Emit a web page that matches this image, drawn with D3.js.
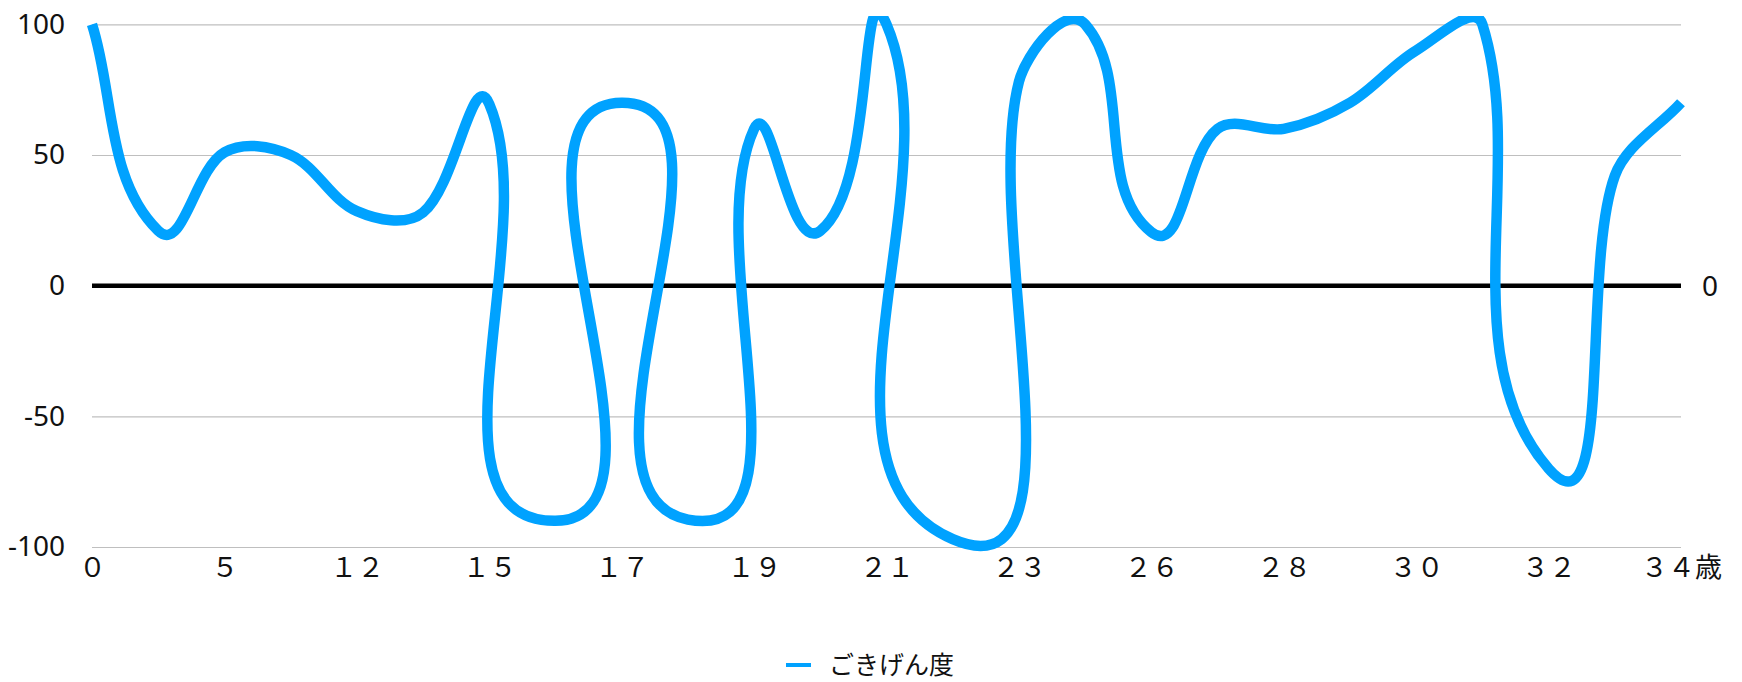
<!DOCTYPE html>
<html>
<head>
<meta charset="utf-8">
<script src="https://cdn.jsdelivr.net/npm/d3@7"></script>
<style>
  html, body { margin: 0; padding: 0; background: #fff; }
  svg { display: block; }
</style>
</head>
<body>
<svg id="main_svg" width="1742" height="682"></svg>
<script>
// one point per category, only every other category carries a label
const values = [100, 21, 51, 50, 28.5, 28, 69.5, -90, 70, -89.5, 60, 21, 100,
                -97, 78, 100, 20.5, 60, 60, 70, 90, 100, -70, 42, 70];
const tickLabels = ["０", "５", "１２", "１５", "１７", "１９", "２１",
                    "２３", "２６", "２８", "３０", "３２", "３４歳"];
const yTicks = [-100, -50, 0, 50, 100];
const seriesName = "ごきげん度";

const width = 1742, height = 682;
const plotLeft = 92, plotRight = 1681, plotTop = 24.3, plotBottom = 547;
const blue = "#00a2ff";

const svg = d3.select("#main_svg");

const idx = values.map((v, i) => i);
const x = d3.scalePoint().domain(idx).range([plotLeft, plotRight]);
const y = d3.scaleLinear().domain([-100, 100]).range([plotBottom, plotTop]);

// bezier through each point, tangent along neighbours, handles a third of the chord
// (long steep segments overshoot sideways, which gives the loops)
function LoopCurve(context) { this._context = context; }
LoopCurve.prototype = {
  areaStart() {}, areaEnd() {},
  lineStart() { this._pts = []; },
  point(px, py) { this._pts.push([+px, +py]); },
  lineEnd() {
    const p = this._pts, c = this._context;
    if (!p.length) return;
    const unit = (dx, dy) => { const l = Math.hypot(dx, dy) || 1; return [dx / l, dy / l]; };
    c.moveTo(p[0][0], p[0][1]);
    for (let i = 0; i < p.length - 1; i++) {
      const a = p[i], b = p[i + 1];
      const prev = p[i - 1] || a, next = p[i + 2] || b;
      const h = Math.hypot(b[0] - a[0], b[1] - a[1]) / 3;
      const t1 = unit(b[0] - prev[0], b[1] - prev[1]);
      const t2 = unit(next[0] - a[0], next[1] - a[1]);
      c.bezierCurveTo(a[0] + t1[0] * h, a[1] + t1[1] * h,
                      b[0] - t2[0] * h, b[1] - t2[1] * h, b[0], b[1]);
    }
  }
};
const loopCurve = ctx => new LoopCurve(ctx);

// gridlines + y labels
const yAxis = svg.append("g").attr("transform", "translate(" + plotLeft + ",0)")
  .call(d3.axisLeft(y).tickValues(yTicks).tickFormat(d => String(d))
    .tickSizeInner(-(plotRight - plotLeft)).tickSizeOuter(0).tickPadding(27));
yAxis.select(".domain").remove();
yAxis.selectAll("line").attr("stroke", "#bfbfbf").attr("stroke-width", 1.2);
yAxis.selectAll("text").attr("font-family", "'Noto Sans', sans-serif")
  .attr("font-size", 28).attr("fill", "#111");

// x labels on every second category
const xAxis = svg.append("g").attr("transform", "translate(0," + plotBottom + ")")
  .call(d3.axisBottom(x).tickValues(idx.filter(i => i % 2 === 0))
    .tickFormat(i => tickLabels[i / 2]).tickSize(0).tickPadding(11));
xAxis.select(".domain").remove();
xAxis.selectAll("text").attr("font-family", "'Noto Sans CJK JP', sans-serif")
  .attr("font-size", 27).attr("fill", "#111");

// zero line
svg.append("line")
  .attr("x1", plotLeft).attr("x2", plotRight).attr("y1", y(0)).attr("y2", y(0))
  .attr("stroke", "#000").attr("stroke-width", 4.5);

svg.append("text").attr("x", 1702).attr("y", y(0)).attr("dy", "0.36em")
  .attr("font-family", "'Noto Sans', sans-serif").attr("font-size", 28).attr("fill", "#111")
  .text("0");

// series
svg.append("clipPath").attr("id", "plot_clip")
  .append("rect").attr("x", 0).attr("y", 16).attr("width", width).attr("height", height - 16);

const line = d3.line().x((d, i) => x(i)).y(d => y(d)).curve(loopCurve);
svg.append("path").datum(values)
  .attr("clip-path", "url(#plot_clip)")
  .attr("d", line)
  .attr("fill", "none").attr("stroke", blue).attr("stroke-width", 10.5)
  .attr("stroke-linejoin", "round");

// legend
const legend = svg.append("g").attr("transform", "translate(786,665)");
legend.append("line").attr("x1", 0).attr("x2", 25).attr("y1", 0).attr("y2", 0)
  .attr("stroke", blue).attr("stroke-width", 4);
legend.append("text").attr("x", 43).attr("y", 0).attr("dy", "0.36em")
  .attr("font-family", "'Noto Sans CJK JP', sans-serif").attr("font-size", 25).attr("fill", "#111")
  .text(seriesName);
</script>
</body>
</html>
